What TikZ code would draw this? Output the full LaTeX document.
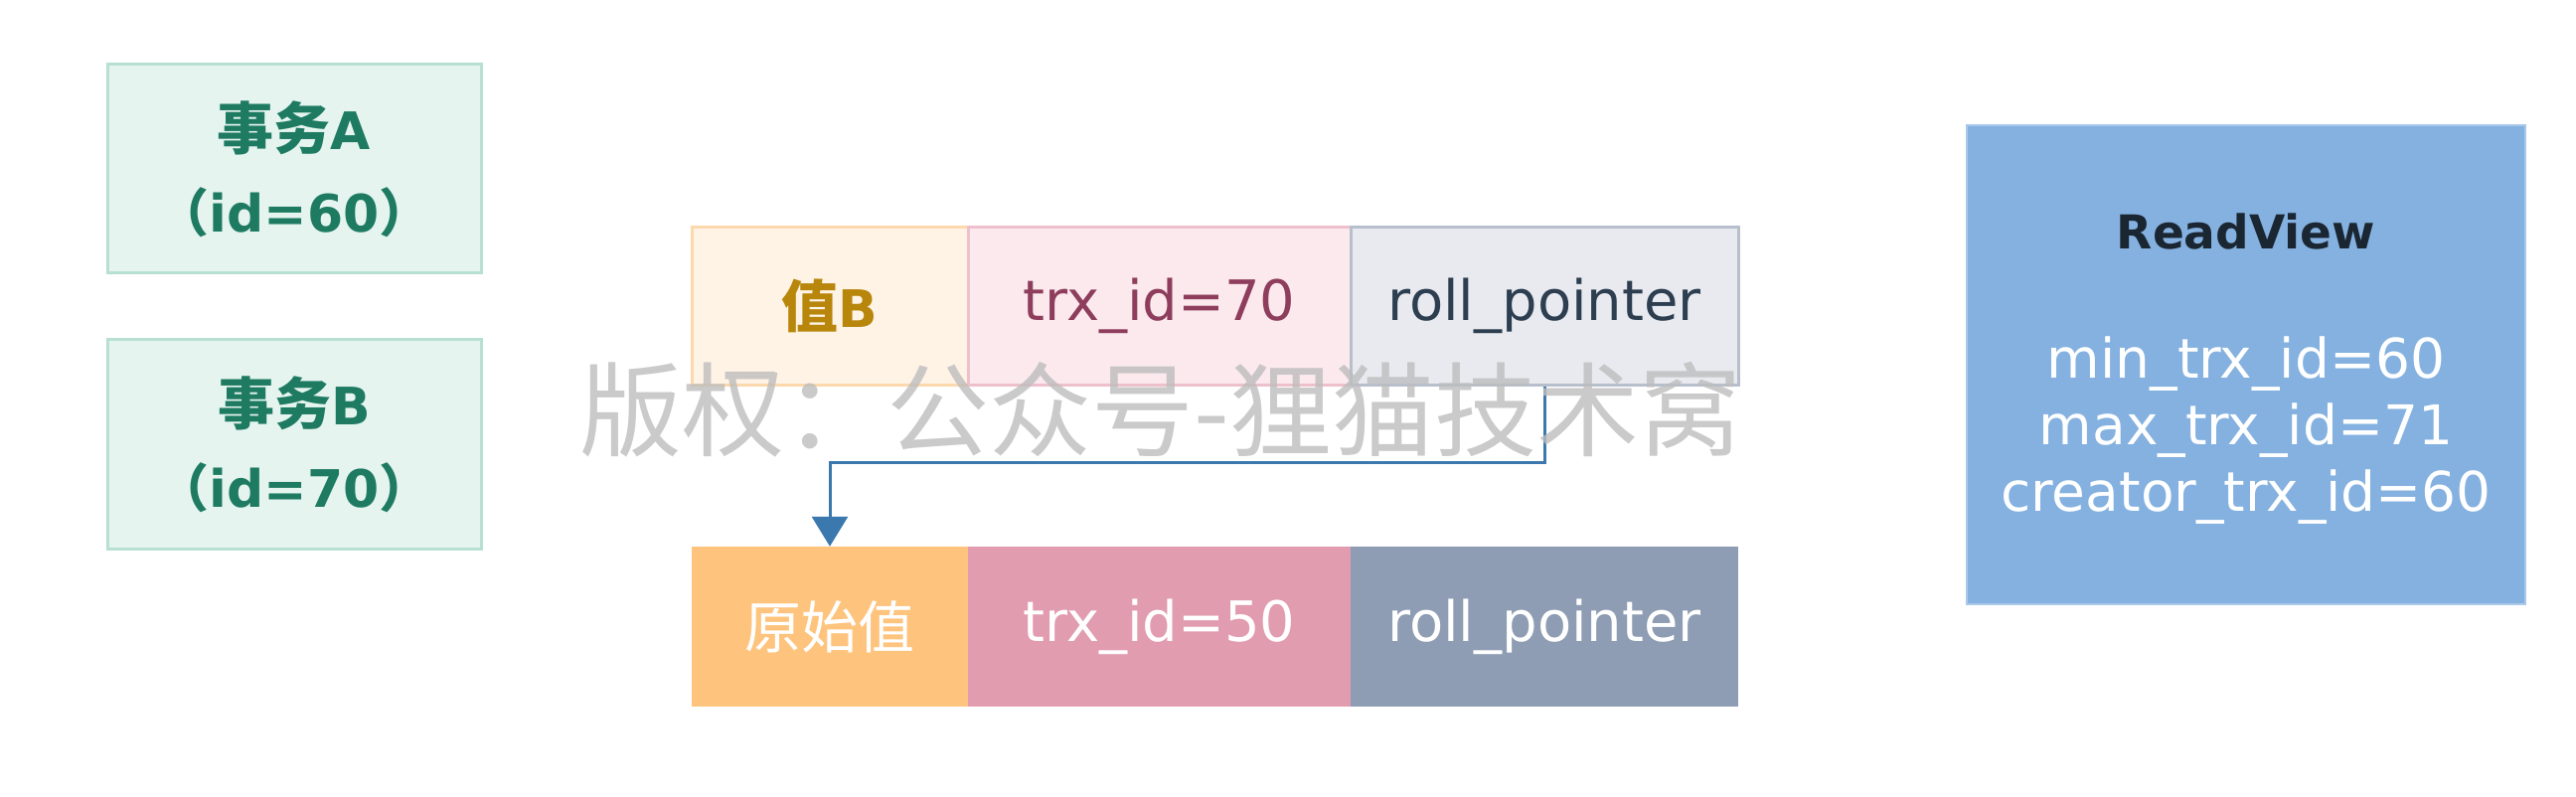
\documentclass[tikz,border=0pt]{standalone}
\usepackage{fontspec}
\setmainfont{DejaVu Sans}
\newfontfamily\cjk{Noto Sans CJK SC}
\usetikzlibrary{arrows.meta}
\definecolor{txfill}{HTML}{E5F4EF}
\definecolor{txline}{HTML}{B8E0D2}
\definecolor{txtext}{HTML}{1E7B62}
\definecolor{vaFill}{HTML}{FFF3E6}
\definecolor{vaLine}{HTML}{FCD9AD}
\definecolor{vaText}{HTML}{B7860B}
\definecolor{trFill}{HTML}{FBE9EE}
\definecolor{trLine}{HTML}{EDC0CC}
\definecolor{trText}{HTML}{8E3E5C}
\definecolor{rpFill}{HTML}{E8EAEF}
\definecolor{rpLine}{HTML}{B7BFCC}
\definecolor{rpText}{HTML}{2C3E50}
\definecolor{vbFill}{HTML}{FEC47E}
\definecolor{tbFill}{HTML}{E29CAF}
\definecolor{rbFill}{HTML}{8E9DB3}
\definecolor{rvFill}{HTML}{84B1E0}
\definecolor{rvLine}{HTML}{A9C9EA}
\definecolor{rvTitle}{HTML}{1B2633}
\definecolor{arrowc}{HTML}{3A78AE}
\definecolor{wmark}{HTML}{BDBDBD}
\tikzset{
  txbox/.style={draw=txline, fill=txfill, line width=3pt, minimum width=376pt, minimum height=210pt,
    align=center, text=txtext, font=\bfseries\fontsize{52}{83}\selectfont},
  cell/.style={line width=3pt, minimum height=159pt, font=\fontsize{56}{60}\selectfont},
  lowcell/.style={minimum height=161pt, text=white, font=\fontsize{56}{60}\selectfont, draw=none},
  link/.style={draw=arrowc, line width=3pt, -{Triangle[width=36pt,length=30pt]}},
}
\begin{document}
\begin{tikzpicture}[x=1pt,y=-1pt]
\useasboundingbox[fill=white] (0,0) rectangle (2592,802);
% transactions
\node[txbox] (ta) at (296,170) {{\cjk\fontsize{57}{83}\selectfont 事务}A\\{\cjk （}id=60{\cjk ）}};
\node[txbox] (tb) at (296,447) {{\cjk\fontsize{57}{83}\selectfont 事务}B\\{\cjk （}id=70{\cjk ）}};
% top row (value B)
\node[cell, draw=vaLine, fill=vaFill, text=vaText, minimum width=278pt, font=\bfseries\fontsize{52}{60}\selectfont] (v1) at (835,308) {{\cjk\fontsize{57}{60}\selectfont 值}B};
\node[cell, draw=trLine, fill=trFill, text=trText, minimum width=385pt] (t1) at (1166.5,308) {trx\_id=70};
\node[cell, draw=rpLine, fill=rpFill, text=rpText, minimum width=390pt] (r1) at (1554,308) {roll\_pointer};
% bottom row (original)
\node[lowcell, fill=vbFill, minimum width=278pt, font=\cjk\fontsize{57}{60}\selectfont] (v0) at (835,630.5) {原始值};
\node[lowcell, fill=tbFill, minimum width=385pt] (t0) at (1166.5,630.5) {trx\_id=50};
\node[lowcell, fill=rbFill, minimum width=390pt] (r0) at (1554,630.5) {roll\_pointer};
% read view
\node[draw=rvLine, fill=rvFill, line width=2pt, minimum width=562pt, minimum height=482pt] (rv) at (2260,367) {};
\node[text=rvTitle, font=\bfseries\fontsize{47}{50}\selectfont] (rvt) at (2260,233) {ReadView};
\node[text=white, align=center, font=\fontsize{55}{67}\selectfont] (rvb) at (2260,433) {min\_trx\_id=60\\max\_trx\_id=71\\creator\_trx\_id=60};
% undo link
\draw[link] (r1.south) -- ++(0,76) -| (v0.north);
% watermark
\node[text=wmark, text opacity=0.8, font=\cjk\fontsize{103}{110}\selectfont, inner sep=0pt] (wm) at (1168,412) {版权：公众号-狸猫技术窝};
\end{tikzpicture}
\end{document}
